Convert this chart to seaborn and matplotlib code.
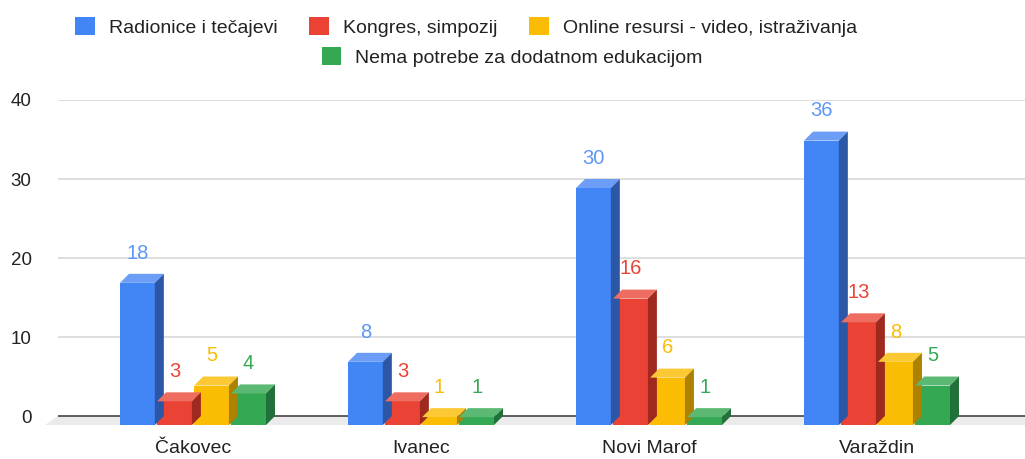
import numpy as np
import pandas as pd
import matplotlib
matplotlib.use("Agg")
import matplotlib.pyplot as plt
import matplotlib.patches as mpatches
from matplotlib.patches import Polygon
import seaborn as sns

# ---- data ----
gradovi = ["Čakovec", "Ivanec", "Novi Marof", "Varaždin"]
kategorije = ["Radionice i tečajevi", "Kongres, simpozij",
              "Online resursi - video, istraživanja",
              "Nema potrebe za dodatnom edukacijom"]
radionice = [18, 8, 30, 36]
kongres = [3, 3, 16, 13]
online = [5, 1, 6, 8]
nema = [4, 1, 1, 5]
y_ticks = [0, 10, 20, 30, 40]

serije = [radionice, kongres, online, nema]
rows = []
for kat, vals in zip(kategorije, serije):
    for g, v in zip(gradovi, vals):
        rows.append({"grad": g, "kategorija": kat, "broj": v})
df = pd.DataFrame(rows)

# ---- style ----
front = ["#4285f4", "#ea4335", "#fbbc04", "#34a853"]
top_c = ["#6d9ef7", "#ef6c60", "#fcc934", "#5bb974"]
side_c = ["#2c57a6", "#a0291f", "#ad8200", "#22703a"]
lab_c = ["#5e97f6", "#ea4335", "#fbbc04", "#34a853"]

sns.set_theme(style="white")
plt.rcParams["font.family"] = ["Liberation Sans", "DejaVu Sans"]

W, H = 1025, 459
fig = plt.figure(figsize=(W / 100, H / 100), dpi=100)
ax_left, ax_right = 58 / W, 1.0
ax_bottom, ax_top = 1 - 426.3 / H, 1 - 100 / H
ax = fig.add_axes([ax_left, ax_bottom, ax_right - ax_left, ax_top - ax_bottom])

sns.barplot(data=df, x="grad", y="broj", hue="kategorija", order=gradovi,
            hue_order=kategorije, palette=front, width=0.65, gap=0.06,
            saturation=1, legend=False, ax=ax, zorder=4, linewidth=0)

ylo, yhi = -1.3, 40
px_per_x = 228.0
x_lo = (58 - 193) / px_per_x
x_hi = (1025 - 193) / px_per_x
ax.set_xlim(x_lo, x_hi)
ax.set_ylim(ylo, yhi)
px_per_y = (426.3 - 100) / (yhi - ylo)

dx = 9 / px_per_x   # depth offset, data units
dy = 9 / px_per_y

# gridlines (back plane)
for t in y_ticks[1:]:
    ax.axhline(t, color="#d4d4d4", lw=1.1, zorder=1)

# floor
floor = Polygon([[x_lo, 0], [x_hi + 1, 0], [x_hi + 1, -dy], [x_lo - dx * 1.4, -dy]],
                closed=True, facecolor="#ebebeb", edgecolor="none",
                zorder=1.5, clip_on=False)
ax.add_patch(floor)
ax.axhline(0, color="#444444", lw=1.2, zorder=2)

# 3D faces
for i, cont in enumerate(ax.containers):
    for p in cont.patches:
        x, w, v = p.get_x(), p.get_width(), p.get_height()
        p.set_y(-dy)
        p.set_height(v)
        top = Polygon([[x, v - dy], [x + w, v - dy], [x + w + dx, v], [x + dx, v]],
                      closed=True, facecolor=top_c[i], edgecolor="none", zorder=4)
        side = Polygon([[x + w, -dy], [x + w + dx, 0], [x + w + dx, v], [x + w, v - dy]],
                       closed=True, facecolor=side_c[i], edgecolor="none", zorder=4)
        ax.add_patch(top)
        ax.add_patch(side)
        ax.annotate(f"{int(v)}", (x + w / 2, v), xytext=(0, 11),
                    textcoords="offset points", ha="center", va="baseline",
                    fontsize=14.5, color=lab_c[i], zorder=6)

ax.set_yticks(y_ticks)
ax.set_yticklabels([str(t) for t in y_ticks], fontsize=13.5, color="#222222")
ax.tick_params(axis="y", length=0, pad=19)
ax.tick_params(axis="x", length=0, pad=10, labelsize=14, labelcolor="#222222")
ax.set_xlabel("")
ax.set_ylabel("")
for s in ax.spines.values():
    s.set_visible(False)

# legend
handles = [mpatches.Patch(facecolor=c, edgecolor="none") for c in front]
leg_kw = dict(frameon=False, handlelength=1.0, handleheight=1.0,
              handletextpad=0.72, columnspacing=1.65, fontsize=14,
              borderaxespad=0, borderpad=0)
l1 = fig.legend(handles[:3], kategorije[:3], ncol=3, loc="center",
                bbox_to_anchor=(466 / W, 1 - 27 / H), **leg_kw)
l2 = fig.legend(handles[3:], kategorije[3:], ncol=1, loc="center",
                bbox_to_anchor=(512 / W, 1 - 57 / H), **leg_kw)
for l in (l1, l2):
    for t in l.get_texts():
        t.set_color("#222222")

fig.savefig("out.png", dpi=100)
